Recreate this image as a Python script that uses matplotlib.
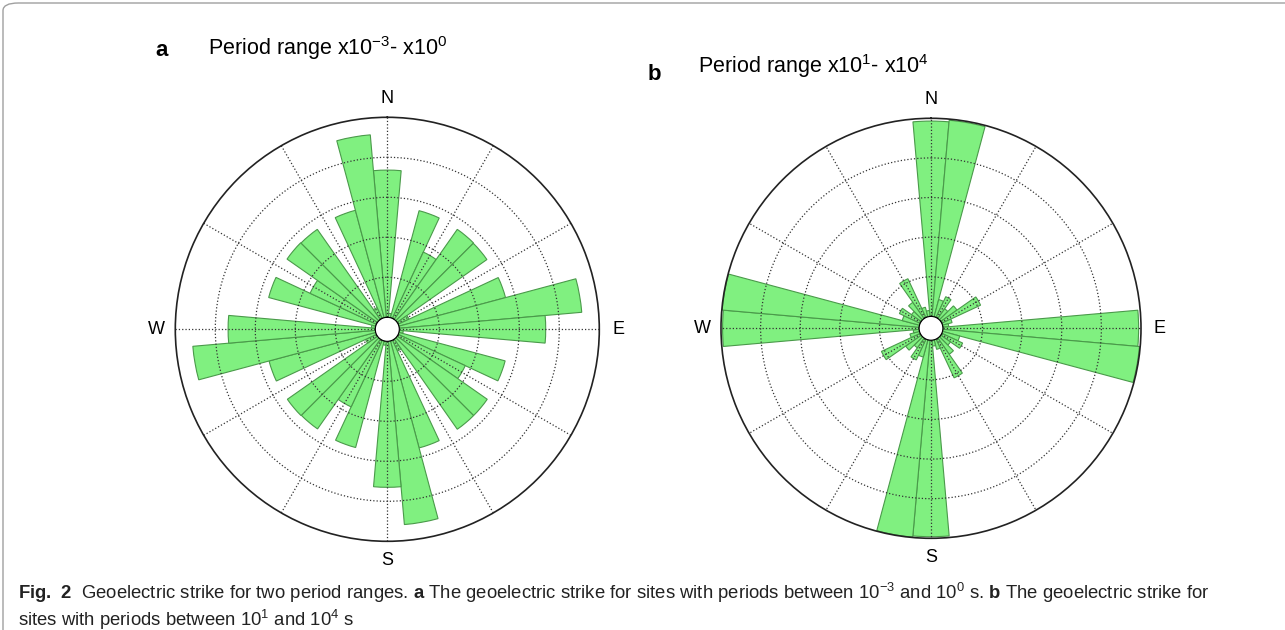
import numpy as np
import matplotlib
matplotlib.use('Agg')
import matplotlib.pyplot as plt
from matplotlib.patches import FancyBboxPatch

plt.rcParams['font.family'] = ['Liberation Sans', 'DejaVu Sans']
plt.rcParams['mathtext.fontset'] = 'custom'
plt.rcParams['mathtext.rm'] = 'Liberation Sans'
plt.rcParams['mathtext.bf'] = 'Liberation Sans:bold'

# bin centres (degrees from north, clockwise), 10 degree bins
bin_deg = np.arange(0, 360, 10)

# panel a: periods 1e-3 .. 1e0 (radial units = grid rings)
strike_a = [3.68, 0.10, 2.77, 1.83, 2.75, 2.74, 0.30, 2.76, 4.58,
            3.66, 0.10, 2.75, 1.85, 2.75, 2.75, 0.30, 2.77, 4.60,
            3.65, 0.10, 2.76, 1.84, 2.74, 2.75, 0.30, 2.76, 4.58,
            3.68, 0.10, 2.77, 1.83, 2.76, 2.75, 0.30, 2.78, 4.58]

# panel b: periods 1e1 .. 1e4
strike_b = [4.93, 4.97, 0.45, 0.58, 0.30, 0.50, 1.08, 0.25, 0.15,
            4.94, 4.98, 0.45, 0.58, 0.30, 0.50, 1.08, 0.25, 0.15,
            4.96, 4.99, 0.45, 0.58, 0.30, 0.48, 1.08, 0.25, 0.15,
            4.96, 4.99, 0.45, 0.58, 0.30, 0.50, 1.08, 0.25, 0.15]

panel_letters = ['a', 'b']
panel_titles = [r'Period range x10$^{-3}$- x10$^{0}$',
                r'Period range x10$^{1}$- x10$^{4}$']

W, H = 1285, 630
fig = plt.figure(figsize=(W / 100, H / 100), dpi=100)

# rounded frame of the figure box
frame = FancyBboxPatch((3 / W, -0.2), 1.2, 1 - 3 / H + 0.2,
                       boxstyle='round,pad=0,rounding_size=0.012',
                       transform=fig.transFigure, fill=False,
                       edgecolor='#a0a0a0', lw=1.0)
fig.patches.append(frame)


def rose(ax, vals):
    th = np.deg2rad(bin_deg)
    ax.bar(th, vals, width=np.deg2rad(10), bottom=0,
           color='#80f080', edgecolor='#4a9a4a', linewidth=0.8, zorder=1)
    ax.set_theta_zero_location('N')
    ax.set_theta_direction(-1)
    ax.set_rorigin(-0.3)
    ax.set_rlim(0, 5)
    ax.set_rticks([0, 1, 2, 3, 4])
    ax.set_yticklabels([])
    ax.set_xticks(np.deg2rad(np.arange(0, 360, 30)))
    ax.set_xticklabels(['N', '', '', 'E', '', '', 'S', '', '', 'W', '', ''],
                       fontsize=13)
    ax.tick_params(axis='x', pad=3)
    ax.grid(True, linestyle=':', color='#333333', linewidth=0.9)
    ax.spines['polar'].set_linewidth(1.2)
    ax.spines['polar'].set_color('#222222')
    ax.spines['inner'].set_visible(False)


# panel a: centre (387, 329), radius 212 px
ax1 = fig.add_axes([(387.3 - 212) / W, (H - 329.3 - 212) / H, 424 / W, 424 / H],
                   projection='polar')
rose(ax1, strike_a)
# panel b: centre (931, 328), radius 210 px
ax2 = fig.add_axes([(931 - 210) / W, (H - 328.3 - 210) / H, 420 / W, 420 / H],
                   projection='polar')
rose(ax2, strike_b)

# panel headings
fig.text(155 / W, 1 - 50 / H, panel_letters[0], fontsize=16, fontweight='bold',
         va='center', ha='left')
fig.text(208 / W, 1 - 48 / H, panel_titles[0], fontsize=15.5, va='center', ha='left')
fig.text(648 / W, 1 - 75 / H, panel_letters[1], fontsize=16, fontweight='bold',
         va='center', ha='left')
fig.text(698 / W, 1 - 66 / H, panel_titles[1], fontsize=15.5, va='center', ha='left')

# caption
line1 = (r'$\mathbf{Fig.\ 2}$  Geoelectric strike for two period ranges. '
         r'$\mathbf{a}$ The geoelectric strike for sites with periods between '
         r'10$^{-3}$ and 10$^{0}$ s. $\mathbf{b}$ The geoelectric strike for')
line2 = r'sites with periods between 10$^{1}$ and 10$^{4}$ s'
fig.text(18 / W, 1 - 593 / H, line1, fontsize=13.3,
         va='center', ha='left', color='#222222')
fig.text(18 / W, 1 - 620 / H, line2, fontsize=13.3,
         va='center', ha='left', color='#222222')

fig.savefig('out.png', dpi=100)
